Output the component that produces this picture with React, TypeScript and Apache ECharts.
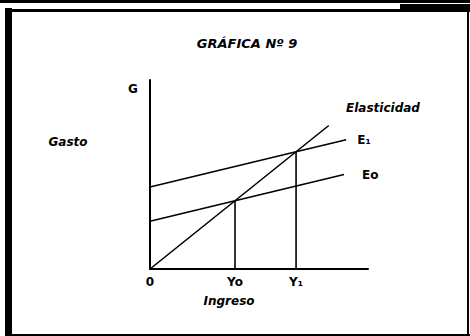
import React, { useEffect, useRef } from "react";
import * as echarts from "echarts";

// Income levels marked on the horizontal axis
const incomeTicks = [0, 39, 67];
const incomeTickNames = ["0", "Yo", "Y₁"];

// 45° line: spending equals income
const lineaGasto45 = [
  [0, 0],
  [39, 39],
  [67, 67],
  [82, 82],
];

// Spending schedules
const curvaE0 = [
  [0, 27.3],
  [39, 39],
  [89, 54],
];
const curvaE1 = [
  [0, 46.9],
  [67, 67],
  [90, 73.9],
];

// Drop lines from each equilibrium to the income axis
const caidaYo = [
  [39, 0],
  [39, 39],
];
const caidaY1 = [
  [67, 0],
  [67, 67],
];

const INK = "#000";
const FONT = "'DejaVu Sans', 'Liberation Sans', sans-serif";

export default function App() {
  const ref = useRef<HTMLDivElement>(null);

  useEffect(() => {
    if (!ref.current) return;
    const chart = echarts.init(ref.current, null, { renderer: "svg" });

    const lineSeries = (name: string, data: number[][], extra: any = {}) => ({
      name,
      type: "line",
      data,
      symbol: "none",
      silent: true,
      lineStyle: { color: INK, width: 1.6 },
      ...extra,
    });

    const endLabel = (text: string, distance: number) => ({
      endLabel: {
        show: true,
        formatter: text,
        distance,
        color: INK,
        fontFamily: FONT,
        fontWeight: "bold",
        fontSize: 12,
      },
    });

    chart.setOption({
      animation: false,
      backgroundColor: "#fff",
      grid: { left: 150, top: 80, width: 218, height: 189 },
      xAxis: {
        type: "value",
        min: 0,
        max: 100,
        splitLine: { show: false },
        axisTick: { show: false },
        axisLine: { show: true, lineStyle: { color: INK, width: 2 } },
        axisLabel: {
          customValues: incomeTicks,
          formatter: (v: number) => incomeTickNames[incomeTicks.indexOf(v)] ?? "",
          color: INK,
          fontFamily: FONT,
          fontWeight: "bold",
          fontSize: 12,
          margin: 7,
        },
      },
      yAxis: {
        type: "value",
        min: 0,
        max: 108,
        splitLine: { show: false },
        axisTick: { show: false },
        axisLabel: { show: false },
        axisLine: { show: true, lineStyle: { color: INK, width: 2 } },
      },
      series: [
        lineSeries("45°", lineaGasto45),
        lineSeries("E1", curvaE1, endLabel("E₁", 11)),
        lineSeries("E0", curvaE0, endLabel("Eo", 18)),
        lineSeries("Yo", caidaYo),
        lineSeries("Y1", caidaY1),
      ],
      graphic: [
        // frame
        { type: "rect", shape: { x: 0, y: 0, width: 470, height: 3 }, style: { fill: INK } },
        { type: "rect", shape: { x: 5, y: 9, width: 465, height: 3 }, style: { fill: INK } },
        { type: "rect", shape: { x: 400, y: 4, width: 70, height: 8 }, style: { fill: INK } },
        { type: "rect", shape: { x: 5, y: 8, width: 7, height: 328 }, style: { fill: INK } },
        { type: "rect", shape: { x: 467, y: 9, width: 2, height: 327 }, style: { fill: INK } },
        { type: "rect", shape: { x: 5, y: 334, width: 465, height: 2 }, style: { fill: INK } },
        {
          type: "text",
          x: 247,
          y: 43,
          style: {
            text: "GRÁFICA Nº 9",
            fill: INK,
            font: `italic bold 13px ${FONT}`,
            align: "center",
            verticalAlign: "middle",
          },
        },
        {
          type: "text",
          x: 133,
          y: 89,
          style: {
            text: "G",
            fill: INK,
            font: `bold 12px ${FONT}`,
            align: "center",
            verticalAlign: "middle",
          },
        },
        {
          type: "text",
          x: 68,
          y: 142,
          style: {
            text: "Gasto",
            fill: INK,
            font: `italic bold 12px ${FONT}`,
            align: "center",
            verticalAlign: "middle",
          },
        },
        {
          type: "text",
          x: 383,
          y: 108,
          style: {
            text: "Elasticidad",
            fill: INK,
            font: `italic bold 12px ${FONT}`,
            align: "center",
            verticalAlign: "middle",
          },
        },
        {
          type: "text",
          x: 229,
          y: 301,
          style: {
            text: "Ingreso",
            fill: INK,
            font: `italic bold 12px ${FONT}`,
            align: "center",
            verticalAlign: "middle",
          },
        },
      ],
    });

    return () => chart.dispose();
  }, []);

  return (
    <div
      ref={ref}
      style={{ position: "absolute", left: 0, top: 0, width: 470, height: 336 }}
    />
  );
}
